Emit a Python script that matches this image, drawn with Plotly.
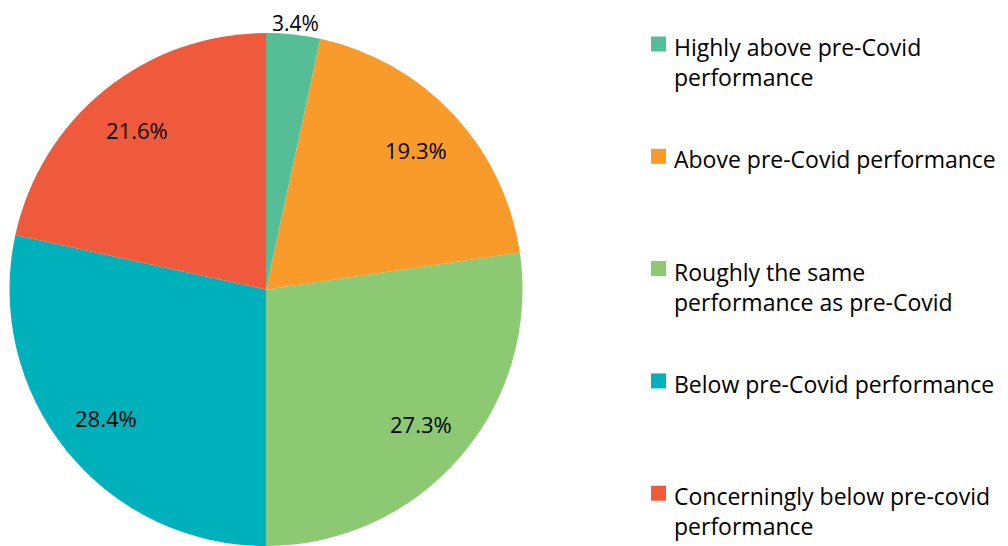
import math

import plotly.graph_objects as go

# page is shown with an 8px body margin, so the figure is drawn 8px smaller
# and everything below is placed in screen pixels, then shifted by OFF
OFF = 8
W, H = 1008 - OFF, 546 - OFF

labels = [
    "Highly above pre-Covid performance",
    "Above pre-Covid performance",
    "Roughly the same performance as pre-Covid",
    "Below pre-Covid performance",
    "Concerningly below pre-covid performance",
]
legend_text = [
    "Highly above pre-Covid<br>performance",
    "Above pre-Covid performance",
    "Roughly the same<br>performance as pre-Covid",
    "Below pre-Covid performance",
    "Concerningly below pre-covid<br>performance",
]
values = [3.4, 19.3, 27.3, 28.4, 21.6]
colors = ["#55BE96", "#F99B2A", "#8DC873", "#00B1BC", "#F05A3C"]

FONT = "Open Sans"


def fx(px):
    return (px - OFF) / W


def fy(py):
    return 1 - (py - OFF) / H


# pie box in screen pixels
px0, px1 = 9, 523
py0, py1 = 33, 546
cx, cy = (px0 + px1) / 2, (py0 + py1) / 2
radius = min(px1 - px0, py1 - py0) / 2

fig = go.Figure(
    go.Pie(
        labels=labels,
        values=values,
        marker=dict(colors=colors, line=dict(width=0)),
        sort=False,
        direction="clockwise",
        rotation=0,
        textinfo="none",
        hoverinfo="label+percent",
        showlegend=False,
        domain=dict(x=[max(0, fx(px0)), fx(px1)], y=[max(0, fy(py1)), fy(py0)]),
    )
)

# percentage labels at slice midpoints
total = sum(values)
cum = 0.0
for v in values:
    mid = (cum + v / 2) / total * 2 * math.pi
    cum += v
    outside = v / total < 0.05
    frac = 1.07 if outside else 0.8
    x = cx + frac * radius * math.sin(mid)
    y = cy - frac * radius * math.cos(mid)
    if outside:
        # small slice: label sits above the pie, pinned to the page top
        fig.add_annotation(
            x=fx(x),
            y=1,
            xref="paper",
            yref="paper",
            text=f"{v:.1f}%",
            showarrow=False,
            xanchor="center",
            yanchor="top",
            borderpad=0,
            font=dict(family=FONT, size=21, color="#000000"),
        )
        continue
    fig.add_annotation(
        x=fx(x),
        y=fy(y),
        xref="paper",
        yref="paper",
        text=f"{v:.1f}%",
        showarrow=False,
        xanchor="center",
        yanchor="middle",
        font=dict(family=FONT, size=22, color="#000000"),
    )

# hand-built legend
first_line_y = 44
gap = 112.3
for i, (txt, col) in enumerate(zip(legend_text, colors)):
    yc = first_line_y + i * gap
    fig.add_shape(
        type="rect",
        xref="paper",
        yref="paper",
        x0=fx(651),
        x1=fx(666),
        y0=fy(yc + 7.5),
        y1=fy(yc - 7.5),
        fillcolor=col,
        line_width=0,
    )
    fig.add_annotation(
        x=fx(672),
        y=fy(yc - 15),
        xref="paper",
        yref="paper",
        text=txt,
        showarrow=False,
        xanchor="left",
        yanchor="top",
        align="left",
        font=dict(family=FONT, size=23, color="#000000"),
    )

fig.update_layout(
    width=W,
    height=H,
    margin=dict(l=0, r=0, t=0, b=0),
    paper_bgcolor="white",
    plot_bgcolor="white",
)

fig.write_html("out.html")
